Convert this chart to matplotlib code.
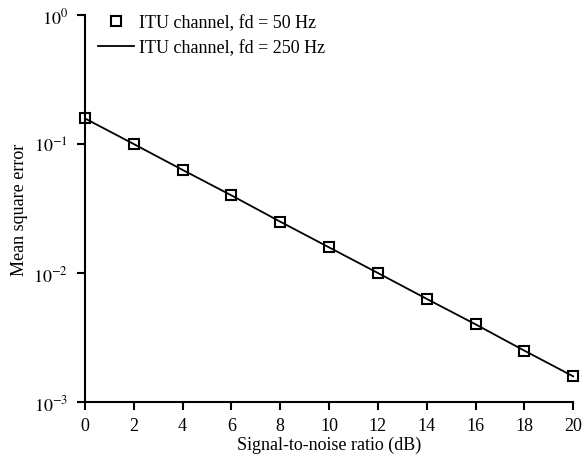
import numpy as np
import matplotlib
matplotlib.use('Agg')
import matplotlib.pyplot as plt

plt.rcParams['font.family'] = ['Liberation Serif', 'DejaVu Serif']
plt.rcParams['mathtext.fontset'] = 'stix'

# SNR (dB) and mean square error
snr = [0, 2, 4, 6, 8, 10, 12, 14, 16, 18, 20]
mse_50 = [0.158, 0.100, 0.063, 0.040, 0.025, 0.0158, 0.0100, 0.0063, 0.0040, 0.0025, 0.00158]
mse_250 = [0.158, 0.100, 0.063, 0.040, 0.025, 0.0158, 0.0100, 0.0063, 0.0040, 0.0025, 0.00158]
ytick_vals = [1e-3, 1e-2, 1e-1, 1]
ytick_labels = [r'$10^{-3}$', r'$10^{-2}$', r'$10^{-1}$', r'$10^{0}$']

fig = plt.figure(figsize=(5.84, 4.6), dpi=100)
ax = fig.add_axes([0.1455, 0.124, 0.836, 0.841])

ax.plot(snr, mse_50, 's', color='black', markerfacecolor='none',
        markersize=7, markeredgewidth=1.5, label='ITU channel, fd = 50 Hz',
        clip_on=False, zorder=3)
ax.plot(snr, mse_250, '-', color='black', linewidth=1.3,
        label='ITU channel, fd = 250 Hz', clip_on=False)

ax.set_yscale('log')
ax.set_ylim(1e-3, 1)
ax.set_xlim(0, 20)
ax.set_xticks(range(0, 21, 2))
ax.set_yticks(ytick_vals)
ax.set_yticklabels(ytick_labels)
ax.yaxis.set_minor_locator(matplotlib.ticker.NullLocator())

for s in ['top', 'right']:
    ax.spines[s].set_visible(False)
for s in ['left', 'bottom']:
    ax.spines[s].set_linewidth(1.5)
ax.tick_params(direction='out', length=6, width=1.5, labelsize=13)
ax.tick_params(axis='y', pad=6)
ax.tick_params(axis='x', pad=5)

ax.set_xlabel('Signal-to-noise ratio (dB)', fontsize=13, labelpad=1)
ax.set_ylabel('Mean square error', fontsize=13, labelpad=4)

ax.legend(loc='upper left', bbox_to_anchor=(0.0, 1.035), frameon=False,
          fontsize=13, handlelength=2.0, handletextpad=0.3,
          labelspacing=0.45, borderpad=0.2)

fig.savefig('out.png', dpi=100)
